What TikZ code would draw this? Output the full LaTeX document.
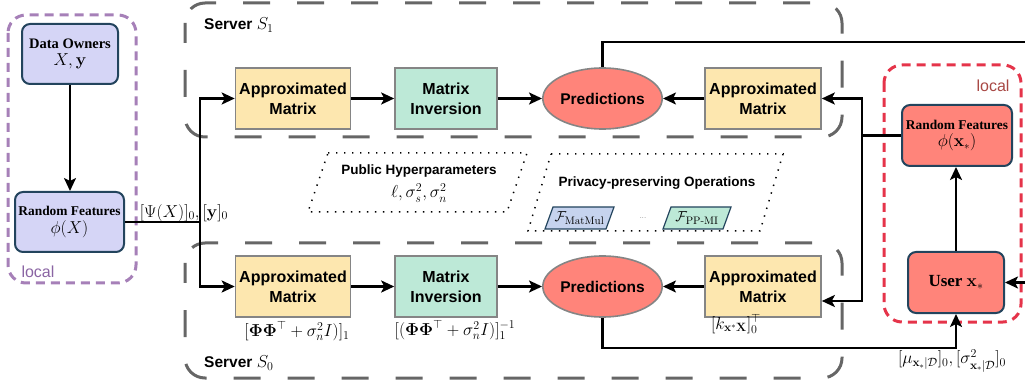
\documentclass[tikz,border=0pt]{standalone}
\usepackage{amsmath,amssymb}
\usepackage[no-math]{fontspec}
\usetikzlibrary{arrows.meta,shapes.geometric}
\newfontfamily\arialf{Liberation Sans}
\newfontfamily\timesf{Liberation Serif}
\definecolor{dkblue}{HTML}{23445D}
\definecolor{lav}{HTML}{D5D5F6}
\definecolor{yel}{HTML}{FDE7AF}
\definecolor{mint}{HTML}{BDE9D7}
\definecolor{salmon}{HTML}{FF847A}
\definecolor{bordgray}{HTML}{858585}
\definecolor{srvgray}{HTML}{666666}
\definecolor{purp}{HTML}{A680B8}
\definecolor{purptxt}{HTML}{8A64A3}
\definecolor{redd}{HTML}{E5344A}
\definecolor{redtxt}{HTML}{A84844}
\definecolor{fblue}{HTML}{C6D3EE}
\tikzset{
  ownbox/.style={draw=dkblue, line width=2, rounded corners=8, inner sep=0, align=center},
  procbox/.style={draw=bordgray, line width=1.6, inner sep=0, align=center,
     minimum width=115, minimum height=61, font=\arialf\bfseries\fontsize{16}{20}\selectfont},
  predell/.style={ellipse, draw=bordgray, line width=1.6, fill=salmon, inner sep=0,
     minimum width=101, minimum height=61, font=\arialf\bfseries\fontsize{15.5}{18}\selectfont},
  conn/.style={line width=2.3},
  arr/.style={line width=2.3, -{Stealth[length=13,width=12,inset=3]}},
  srvbox/.style={draw=srvgray, line width=3, rounded corners=20, dash pattern=on 27 off 27},
  lbl/.style={inner sep=0, font=\fontsize{16.5}{19}\selectfont},
  dotbox/.style={line width=1.5, dash pattern=on 1.4 off 6.6},
  srvlbl/.style={inner sep=0, anchor=west, font=\arialf\bfseries\fontsize{15.5}{18}\selectfont},
}
\begin{document}
\begin{tikzpicture}[x=1pt,y=-1pt]
\useasboundingbox (0,0) rectangle (1025,387);
\begin{scope}
\clip (0,0) rectangle (1025,387);
% server boxes
\draw[srvbox, dash phase=7] (185,3) rectangle (842,137);
\draw[srvbox, dash phase=7] (185,243) rectangle (842,378);
\node[srvlbl] (s1) at (204,25) {Server {\fontsize{18}{20}\selectfont$S_1$}};
\node[srvlbl] (s0) at (204,363) {Server {\fontsize{18}{20}\selectfont$S_0$}};
% local boxes
\draw[purp, line width=3, rounded corners=18, dash pattern=on 9 off 6] (8,15) rectangle (136,283);
\node[inner sep=0, text=purptxt, font=\arialf\fontsize{16}{18}\selectfont] (loc1) at (38,272) {local};
\draw[redd, line width=3, rounded corners=18, dash pattern=on 9 off 6] (884,65) rectangle (1021,322);
\node[inner sep=0, text=redtxt, font=\arialf\fontsize{16}{18}\selectfont] (loc2) at (993,86) {local};
% left nodes
\node[ownbox, fill=lav, minimum width=96, minimum height=60] (do) at (70,54)
  {{\timesf\bfseries\fontsize{14.5}{17}\selectfont Data Owners}\\[5pt]{\fontsize{16}{18}\selectfont$X,\mathbf{y}$}};
\node[ownbox, fill=lav, minimum width=109, minimum height=60] (rf) at (69.5,222)
  {{\timesf\bfseries\fontsize{13.4}{16}\selectfont Random Features}\\[3pt]{\fontsize{16}{18}\selectfont$\phi(X)$}};
% right nodes
\node[ownbox, fill=salmon, minimum width=110, minimum height=61] (rfs) at (957,135.5)
  {{\timesf\bfseries\fontsize{13.4}{16}\selectfont Random Features}\\[3pt]{\fontsize{16}{18}\selectfont$\phi(\mathbf{x}_*)$}};
\node[ownbox, fill=salmon, minimum width=96, minimum height=61, font=\timesf\bfseries\fontsize{17}{20}\selectfont] (user) at (956,282.5)
  {User {\fontsize{18}{20}\selectfont$\mathbf{x}_*$}};
% top row
\node[procbox, fill=yel] (am1) at (293,98.5) {Approximated\\Matrix};
\node[procbox, fill=mint, minimum width=102] (mi1) at (446,98.5) {Matrix\\Inversion};
\node[predell] (p1) at (602.5,98.5) {Predictions};
\node[procbox, fill=yel, minimum width=116] (am1r) at (763,98.5) {Approximated\\Matrix};
% bottom row
\node[procbox, fill=yel] (am0) at (293,286.5) {Approximated\\Matrix};
\node[procbox, fill=mint, minimum width=102] (mi0) at (446,286.5) {Matrix\\Inversion};
\node[predell] (p0) at (602.5,286.5) {Predictions};
\node[procbox, fill=yel, minimum width=116] (am0r) at (763,286.5) {Approximated\\Matrix};
% labels
\node[lbl] (l1) at (184,213) {$[\Psi(X)]_0,[\mathbf{y}]_0$};
\node[lbl] (l2) at (297,331) {$[\boldsymbol{\Phi}\boldsymbol{\Phi}^\top+\sigma_n^2 I)]_1$};
\node[lbl] (l3) at (455,330) {$[(\boldsymbol{\Phi}\boldsymbol{\Phi}^\top+\sigma_n^2 I)]_1^{-1}$};
\node[lbl] (l4) at (736,324) {$[k_{\mathbf{x}^*\mathbf{X}}]_0^{\top}$};
\node[lbl] (l5) at (952,361) {$[\mu_{\mathbf{x}_*|\mathcal{D}}]_0,[\sigma^2_{\mathbf{x}_*|\mathcal{D}}]_0$};
% middle dotted parallelograms
\draw[dotbox] (328,153) -- (527,153) -- (507,212) -- (308,212) -- cycle;
\node[inner sep=0, font=\arialf\bfseries\fontsize{13.5}{16}\selectfont] (ph) at (419,171) {Public Hyperparameters};
\node[lbl] (hp) at (419,193) {$\ell,\sigma_s^2,\sigma_n^2$};
\draw[dotbox] (551,154) -- (783,154) -- (760,231) -- (528,231) -- cycle;
\node[inner sep=0, font=\arialf\bfseries\fontsize{13.5}{16}\selectfont] (po) at (657,183) {Privacy-preserving Operations};
\draw[dkblue, line width=1.2, fill=fblue] (553,207) -- (614,207) -- (606,229) -- (545,229) -- cycle;
\node[inner sep=0, font=\fontsize{15.5}{17}\selectfont] (fm) at (579.5,218) {$\mathcal{F}_{\mathrm{MatMul}}$};
\node[inner sep=0, font=\fontsize{6}{7}\selectfont] (dots) at (643,218) {...};
\draw[dkblue, line width=1.2, fill=mint] (671,207) -- (731,207) -- (723,229) -- (663,229) -- cycle;
\node[inner sep=0, font=\fontsize{15.5}{17}\selectfont] (fp) at (697,218) {$\mathcal{F}_{\text{PP-MI}}$};
% connectors
\draw[arr] (do.south) -- (do.south |- rf.north);
\coordinate (sp) at (200,222);
\draw[conn] (rf.east) -- (sp);
\draw[arr] (sp) |- (am1.west);
\draw[arr] (sp) |- (am0.west);
\draw[arr] (am1) -- (mi1);
\draw[arr] (mi1) -- (p1);
\draw[arr] (am1r) -- (p1);
\draw[arr] (am0) -- (mi0);
\draw[arr] (mi0) -- (p0);
\draw[arr] (am0r) -- (p0);
\coordinate (rj) at (862,135.5);
\draw[conn] (rfs.west) -- (rj);
\draw[arr] (rj) |- (am1r.east);
\draw[arr] (rj) |- ([yshift=-14.5pt]am0r.east);
\draw[arr] (user.north) -- (user.north |- rfs.south);
\coordinate (tr) at (1045,42);
\draw[arr] (p1.north) |- (tr) |- (user.east);
\draw[arr] (p0.south) -- ++(0,30) -| (user.south);
\end{scope}
\end{tikzpicture}
\end{document}
